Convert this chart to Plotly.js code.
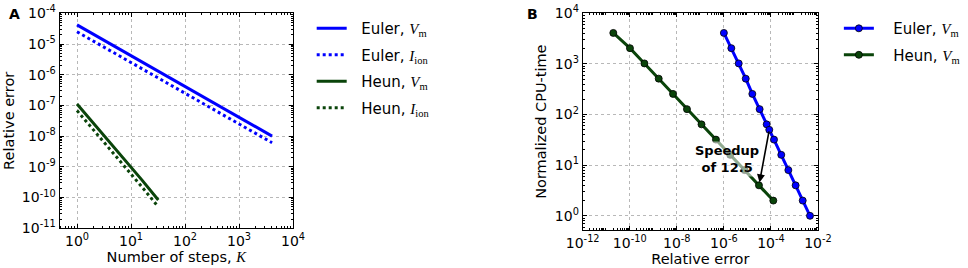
<!DOCTYPE html>
<html><head><meta charset="utf-8">
<script src="https://cdn.plot.ly/plotly-3.0.1.min.js"></script>
<style>html,body{margin:0;padding:0;background:#fff}</style>
</head><body><div id="chart" style="width:968px;height:268px"></div>
<script>
// ---- Panel A data: relative error vs number of steps K ----
const stepsEuler = [1,2,4,8,16,32,64,128,256,512,1024,2048,4096];
const errEulerVm = [4.2e-5,2.1e-5,1.05e-5,5.25e-6,2.6e-6,1.3e-6,6.6e-7,3.3e-7,1.64e-7,8.2e-8,4.1e-8,2.05e-8,1.0e-8];
const errEulerIion = [2.5e-5,1.25e-5,6.2e-6,3.1e-6,1.55e-6,7.8e-7,3.9e-7,1.95e-7,9.7e-8,4.9e-8,2.4e-8,1.22e-8,6.1e-9];
const stepsHeun = [1,2,4,8,16,32];
const errHeunVm = [1.12e-7,2.7e-8,6.6e-9,1.6e-9,3.7e-10,8.3e-11];
const errHeunIion = [6.8e-8,1.66e-8,4.0e-9,9.3e-10,2.2e-10,5.0e-11];

// ---- Panel B data: normalized CPU-time vs relative error ----
const relErrEuler = [1.0e-6,2.07e-6,4.27e-6,8.5e-6,1.62e-5,3.31e-5,6.6e-5,8.5e-5,1.35e-4,2.75e-4,5.5e-4,1.12e-3,2.24e-3,4.57e-3];
const cpuEuler = [4096,2048,1024,512,256,128,64,50,32,16,8,4,2,1];
const relErrHeun = [2.0e-11,1.02e-10,4.2e-10,1.7e-9,6.9e-9,2.7e-8,1.12e-7,4.6e-7,1.86e-6,7.6e-6,3.1e-5,1.26e-4];
const cpuHeun = [4096,2048,1024,512,256,128,64,32,16,8,4,2];

// speedup comparison points (Euler CPU 50 vs Heun CPU 4)
const speedupFrom = {err: relErrEuler[7], cpu: cpuEuler[7]};
const speedupTo = {err: relErrHeun[10], cpu: cpuHeun[10]};
const speedupText = 'Speedup<br>of 12.5';

// ---- tick values / labels ----
const ticksAx = [1,10,100,1000,10000];
const labelsAx = ['10<sup>0</sup>','10<sup>1</sup>','10<sup>2</sup>','10<sup>3</sup>','10<sup>4</sup>'];
const ticksAy = [1e-11,1e-10,1e-9,1e-8,1e-7,1e-6,1e-5,1e-4];
const labelsAy = ['10<sup>-11</sup>','10<sup>-10</sup>','10<sup>-9</sup>','10<sup>-8</sup>','10<sup>-7</sup>','10<sup>-6</sup>','10<sup>-5</sup>','10<sup>-4</sup>'];
const ticksBx = [1e-12,1e-10,1e-8,1e-6,1e-4,1e-2];
const labelsBx = ['10<sup>-12</sup>','10<sup>-10</sup>','10<sup>-8</sup>','10<sup>-6</sup>','10<sup>-4</sup>','10<sup>-2</sup>'];
const ticksBy = [1,10,100,1000,10000];
const labelsBy = ['10<sup>0</sup>','10<sup>1</sup>','10<sup>2</sup>','10<sup>3</sup>','10<sup>4</sup>'];

const BLUE = '#0000ff';
const GREEN = '#0a440a';
const FONT = 'DejaVu Sans, Liberation Sans, sans-serif';
const SERIF = "'Liberation Serif', 'DejaVu Serif', serif";
const sym = (v, s) => `<span style="font-family:${SERIF}"><i>${v}</i><sub>${s}</sub></span>`;
const GAP_A = '\u00a0\u00a0';
const GAP_B = '\u00a0\u00a0\u00a0';

function minorVals(lo, hi) {
  const out = [];
  for (let e = lo; e < hi; e++) for (let m = 2; m <= 9; m++) out.push(m * Math.pow(10, e));
  return out;
}

const traces = [
  {x: stepsEuler, y: errEulerVm, mode:'lines', line:{color:BLUE, width:3}, name:GAP_A + 'Euler, ' + sym('V','m'), legend:'legend', legendgroup:'a1'},
  {x: stepsEuler, y: errEulerIion, mode:'lines', line:{color:BLUE, width:3, dash:'3px,3px'}, name:GAP_A + 'Euler, ' + sym('I','ion'), legend:'legend', legendgroup:'a2'},
  {x: stepsHeun, y: errHeunVm, mode:'lines', line:{color:GREEN, width:3}, name:GAP_A + 'Heun, ' + sym('V','m'), legend:'legend', legendgroup:'a3'},
  {x: stepsHeun, y: errHeunIion, mode:'lines', line:{color:GREEN, width:3, dash:'3px,3px'}, name:GAP_A + 'Heun, ' + sym('I','ion'), legend:'legend', legendgroup:'a4'},
  {x: relErrEuler, y: cpuEuler, xaxis:'x2', yaxis:'y2', mode:'lines+markers', line:{color:BLUE, width:3}, marker:{color:BLUE, size:7, line:{color:'#000', width:0.8}}, name:GAP_B + 'Euler, ' + sym('V','m'), legend:'legend2', legendgroup:'b1'},
  {x: relErrHeun, y: cpuHeun, xaxis:'x2', yaxis:'y2', mode:'lines+markers', line:{color:GREEN, width:3}, marker:{color:GREEN, size:7, line:{color:'#000', width:0.8}}, name:GAP_B + 'Heun, ' + sym('V','m'), legend:'legend2', legendgroup:'b2'}
];

function axis(common) {
  return Object.assign({
    type:'log', tickmode:'array', ticks:'inside', ticklen:4, tickwidth:1, tickcolor:'#000',
    showline:true, linecolor:'#000', linewidth:1, mirror:'allticks',
    showgrid:true, gridcolor:'#b8b8b8', griddash:'dot', gridwidth:1, zeroline:false,
    tickfont:{family:FONT, size:14, color:'#000'}, automargin:false, fixedrange:true
  }, common);
}

const titleFont = {family:FONT, size:14.5, color:'#000'};

const layout = {
  width:968, height:268, margin:{l:0, r:0, t:0, b:0},
  paper_bgcolor:'#fff', plot_bgcolor:'#fff', showlegend:true,
  font:{family:FONT, color:'#000'},
  xaxis: axis({domain:[0.06147,0.30269], range:[-0.324,4], tickvals:ticksAx, ticktext:labelsAx,
    minor:{tickvals:minorVals(-1,4), ticks:'inside', ticklen:2, tickcolor:'#000', showgrid:false},
    title:{text:'Number of steps, <span style="font-family:' + SERIF + '"><i>K</i></span>', font:titleFont, standoff:1}}),
  yaxis: axis({domain:[0.14813,0.95037], range:[-11,-4], tickvals:ticksAy, ticktext:labelsAy,
    minor:{tickvals:minorVals(-11,-4), ticks:'inside', ticklen:2, tickcolor:'#000', showgrid:false},
    title:{text:'Relative error', font:titleFont, standoff:3}}),
  xaxis2: axis({domain:[0.60196,0.84504], range:[-12,-2], tickvals:ticksBx, ticktext:labelsBx, anchor:'y2',
    minor:{tickvals:minorVals(-12,-2), ticks:'inside', ticklen:2, tickcolor:'#000', showgrid:false},
    title:{text:'Relative error', font:titleFont, standoff:1}}),
  yaxis2: axis({domain:[0.14179,0.95037], range:[-0.28,4], tickvals:ticksBy, ticktext:labelsBy, anchor:'x2',
    minor:{tickvals:minorVals(-1,4), ticks:'inside', ticklen:2, tickcolor:'#000', showgrid:false},
    title:{text:'Normalized CPU-time', font:titleFont, standoff:4}}),
  legend: {x:0.322, y:0.955, xanchor:'left', yanchor:'top', bgcolor:'rgba(0,0,0,0)', borderwidth:0,
    font:{family:FONT, size:15, color:'#000'}, traceorder:'grouped', tracegroupgap:4, itemwidth:30},
  legend2: {x:0.8666, y:0.955, xanchor:'left', yanchor:'top', bgcolor:'rgba(0,0,0,0)', borderwidth:0,
    font:{family:FONT, size:15, color:'#000'}, traceorder:'grouped', tracegroupgap:4, itemwidth:30},
  annotations: [
    {text:'<b>A</b>', xref:'paper', yref:'paper', x:0.007, y:0.985, xanchor:'left', yanchor:'top', showarrow:false, font:{family:FONT, size:14, color:'#000'}},
    {text:'<b>B</b>', xref:'paper', yref:'paper', x:0.542, y:0.985, xanchor:'left', yanchor:'top', showarrow:false, font:{family:FONT, size:14, color:'#000'}},
    {text:speedupText, xref:'x2', yref:'y2', x:-5.867, y:1.132, showarrow:false, align:'center',
      font:{family:FONT, size:13, color:'#000', weight:'bold'}, bgcolor:'rgba(255,255,255,0.55)', borderpad:1},
    {text:'', xref:'x2', yref:'y2', x:Math.log10(speedupTo.err), y:Math.log10(speedupTo.cpu),
      axref:'x2', ayref:'y2', ax:Math.log10(speedupFrom.err), ay:Math.log10(speedupFrom.cpu),
      showarrow:true, arrowhead:2, arrowsize:1, arrowwidth:1.6, arrowcolor:'#000', standoff:3, startstandoff:0}
  ]
};

Plotly.newPlot('chart', traces, layout, {displayModeBar:false, staticPlot:true});
</script></body></html>
